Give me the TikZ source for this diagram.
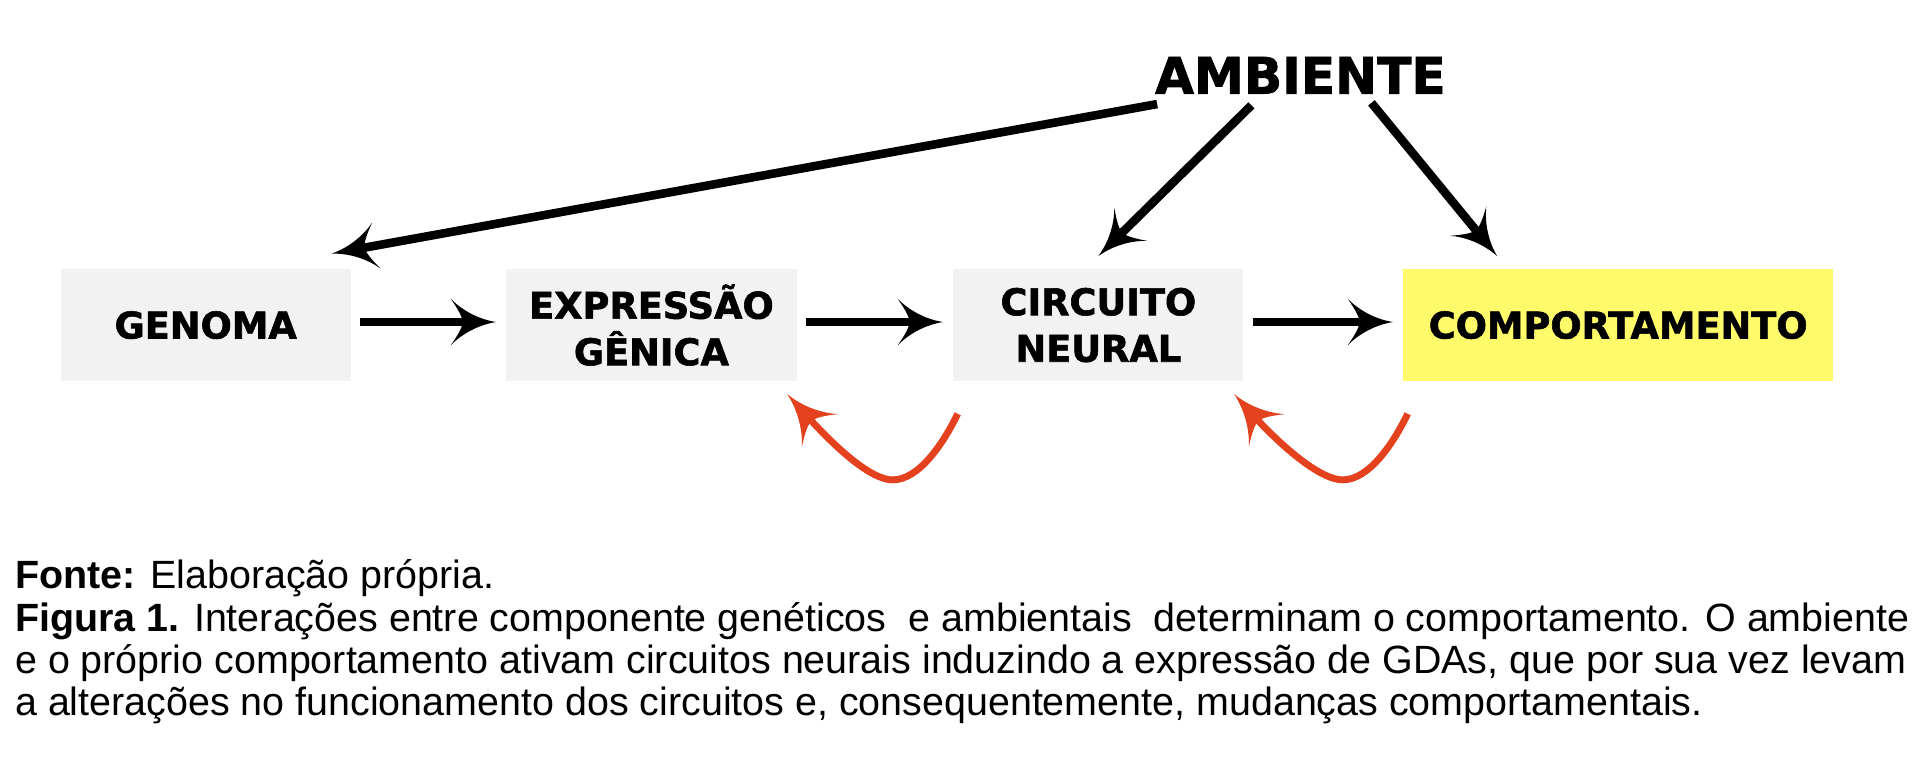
\documentclass[tikz,border=0pt]{standalone}
\usepackage{fontspec}
\setmainfont{Liberation Sans}
\newfontfamily\dvsans{DejaVu Sans}[BoldFeatures={FakeBold=1.6}]
\usetikzlibrary{arrows.meta,calc}
\pgfdeclarearrow{
  name = Barb,
  parameters = {\the\pgfarrowlength,\the\pgfarrowwidth},
  setup code = {
    \pgfarrowssettipend{0pt}
    \pgfarrowssetbackend{-\pgfarrowlength}
    \pgfarrowssetlineend{-0.55\pgfarrowlength}
    \pgfarrowssavethe\pgfarrowlength
    \pgfarrowssavethe\pgfarrowwidth
  },
  drawing code = {
    \pgfpathmoveto{\pgfqpoint{0pt}{0pt}}
    \pgfpathcurveto{\pgfqpoint{-0.45\pgfarrowlength}{0.07\pgfarrowwidth}}{\pgfqpoint{-0.8\pgfarrowlength}{0.3\pgfarrowwidth}}{\pgfqpoint{-\pgfarrowlength}{0.5\pgfarrowwidth}}
    \pgfpathcurveto{\pgfqpoint{-0.82\pgfarrowlength}{0.25\pgfarrowwidth}}{\pgfqpoint{-0.74\pgfarrowlength}{0.1\pgfarrowwidth}}{\pgfqpoint{-0.74\pgfarrowlength}{0pt}}
    \pgfpathcurveto{\pgfqpoint{-0.74\pgfarrowlength}{-0.1\pgfarrowwidth}}{\pgfqpoint{-0.82\pgfarrowlength}{-0.25\pgfarrowwidth}}{\pgfqpoint{-\pgfarrowlength}{-0.5\pgfarrowwidth}}
    \pgfpathcurveto{\pgfqpoint{-0.8\pgfarrowlength}{-0.3\pgfarrowwidth}}{\pgfqpoint{-0.45\pgfarrowlength}{-0.07\pgfarrowwidth}}{\pgfqpoint{0pt}{0pt}}
    \pgfpathclose
    \pgfusepathqfill
  },
  defaults = {length=10pt, width=10pt}
}
\definecolor{boxgray}{HTML}{F2F2F2}
\definecolor{boxyellow}{HTML}{FFFA69}
\definecolor{fbred}{HTML}{E4421F}
\begin{document}
\begin{tikzpicture}[x=0.5pt,y=-0.5pt,
  box/.style={fill=boxgray, minimum width=118.5pt, minimum height=46pt, inner sep=0pt, align=center,
    font=\dvsans\bfseries\fontsize{15}{19}\selectfont},
  flow/.style={draw=black, line width=3.5pt, -{Barb[length=18.5pt,width=19pt]}},
  fb/.style={draw=fbred, line width=2.8pt, -{Barb[length=20pt,width=20pt]}},
  captext/.style={anchor=base west, inner sep=0pt, font=\fontsize{16.1}{19}\selectfont}]
\useasboundingbox (0,0) rectangle (1568,625);
% boxes
\node[box] (gen) at (168,265.5) {GENOMA};
\node[box] (expr) at (532,265.5) {EXPRESSÃO\\GÊNICA};
\node[box] (circ) at (897,265.5) {CIRCUITO\\NEURAL};
\node[box, fill=boxyellow, minimum width=175.5pt] (comp) at (1321.5,265.5) {COMPORTAMENTO};
\node[inner sep=0pt, font=\dvsans\bfseries\fontsize{20.5}{24}\selectfont] (amb) at (1062,61.5) {AMBIENTE};
% horizontal flow
\draw[flow] ([xshift=3.5pt,yshift=1.25pt]gen.east) -- ([xshift=-4pt,yshift=1.25pt]expr.west);
\draw[flow] ([xshift=3.5pt,yshift=1.25pt]expr.east) -- ([xshift=-4pt,yshift=1.25pt]circ.west);
\draw[flow] ([xshift=3.5pt,yshift=1.25pt]circ.east) -- ([xshift=-4pt,yshift=1.25pt]comp.west);
% environment arrows
\coordinate (a1) at ($(amb.center)+(-117,23.5)$);
\coordinate (a2) at ($(amb.center)+(-40,24.5)$);
\coordinate (a3) at ($(amb.center)+(58,22.5)$);
\draw[flow] (a1) -- ($(gen.north east)+(-16,-12)$);
\draw[flow] (a2) -- ($(circ.north)+(0,-10)$);
\draw[flow] (a3) -- ($(comp.north west)+(77,-10)$);
% feedback arrows
\coordinate (r1s) at ($(circ.south west)+(4,26)$);
\coordinate (r1b) at ($(circ.south west)+(-49,80)$);
\coordinate (r1t) at ($(expr.south east)+(-8,10)$);
\draw[fb] (r1s) .. controls ($(r1s)+(-12,25)$) and ($(r1b)+(21,0)$) .. (r1b)
  .. controls ($(r1b)+(-19,0)$) and ($(r1t)+(37,41)$) .. (r1t);
\coordinate (r2s) at ($(comp.south west)+(4,26)$);
\coordinate (r2b) at ($(comp.south west)+(-49,80)$);
\coordinate (r2t) at ($(circ.south east)+(-8,10)$);
\draw[fb] (r2s) .. controls ($(r2s)+(-12,25)$) and ($(r2b)+(21,0)$) .. (r2b)
  .. controls ($(r2b)+(-19,0)$) and ($(r2t)+(37,41)$) .. (r2t);
% caption
\node[captext] (cap1) at (12,481) {\textbf{Fonte:} Elaboração própria.};
\node[captext] (cap2) at (12,515.5) {\textbf{Figura 1.} Interações entre componente genéticos \ e ambientais \ determinam o comportamento. O ambiente};
\node[captext] (cap3) at (12,550) {e o próprio comportamento ativam circuitos neurais induzindo a expressão de GDAs, que por sua vez levam};
\node[captext] (cap4) at (12,584.5) {a alterações no funcionamento dos circuitos e, consequentemente, mudanças comportamentais.};
\end{tikzpicture}
\end{document}
